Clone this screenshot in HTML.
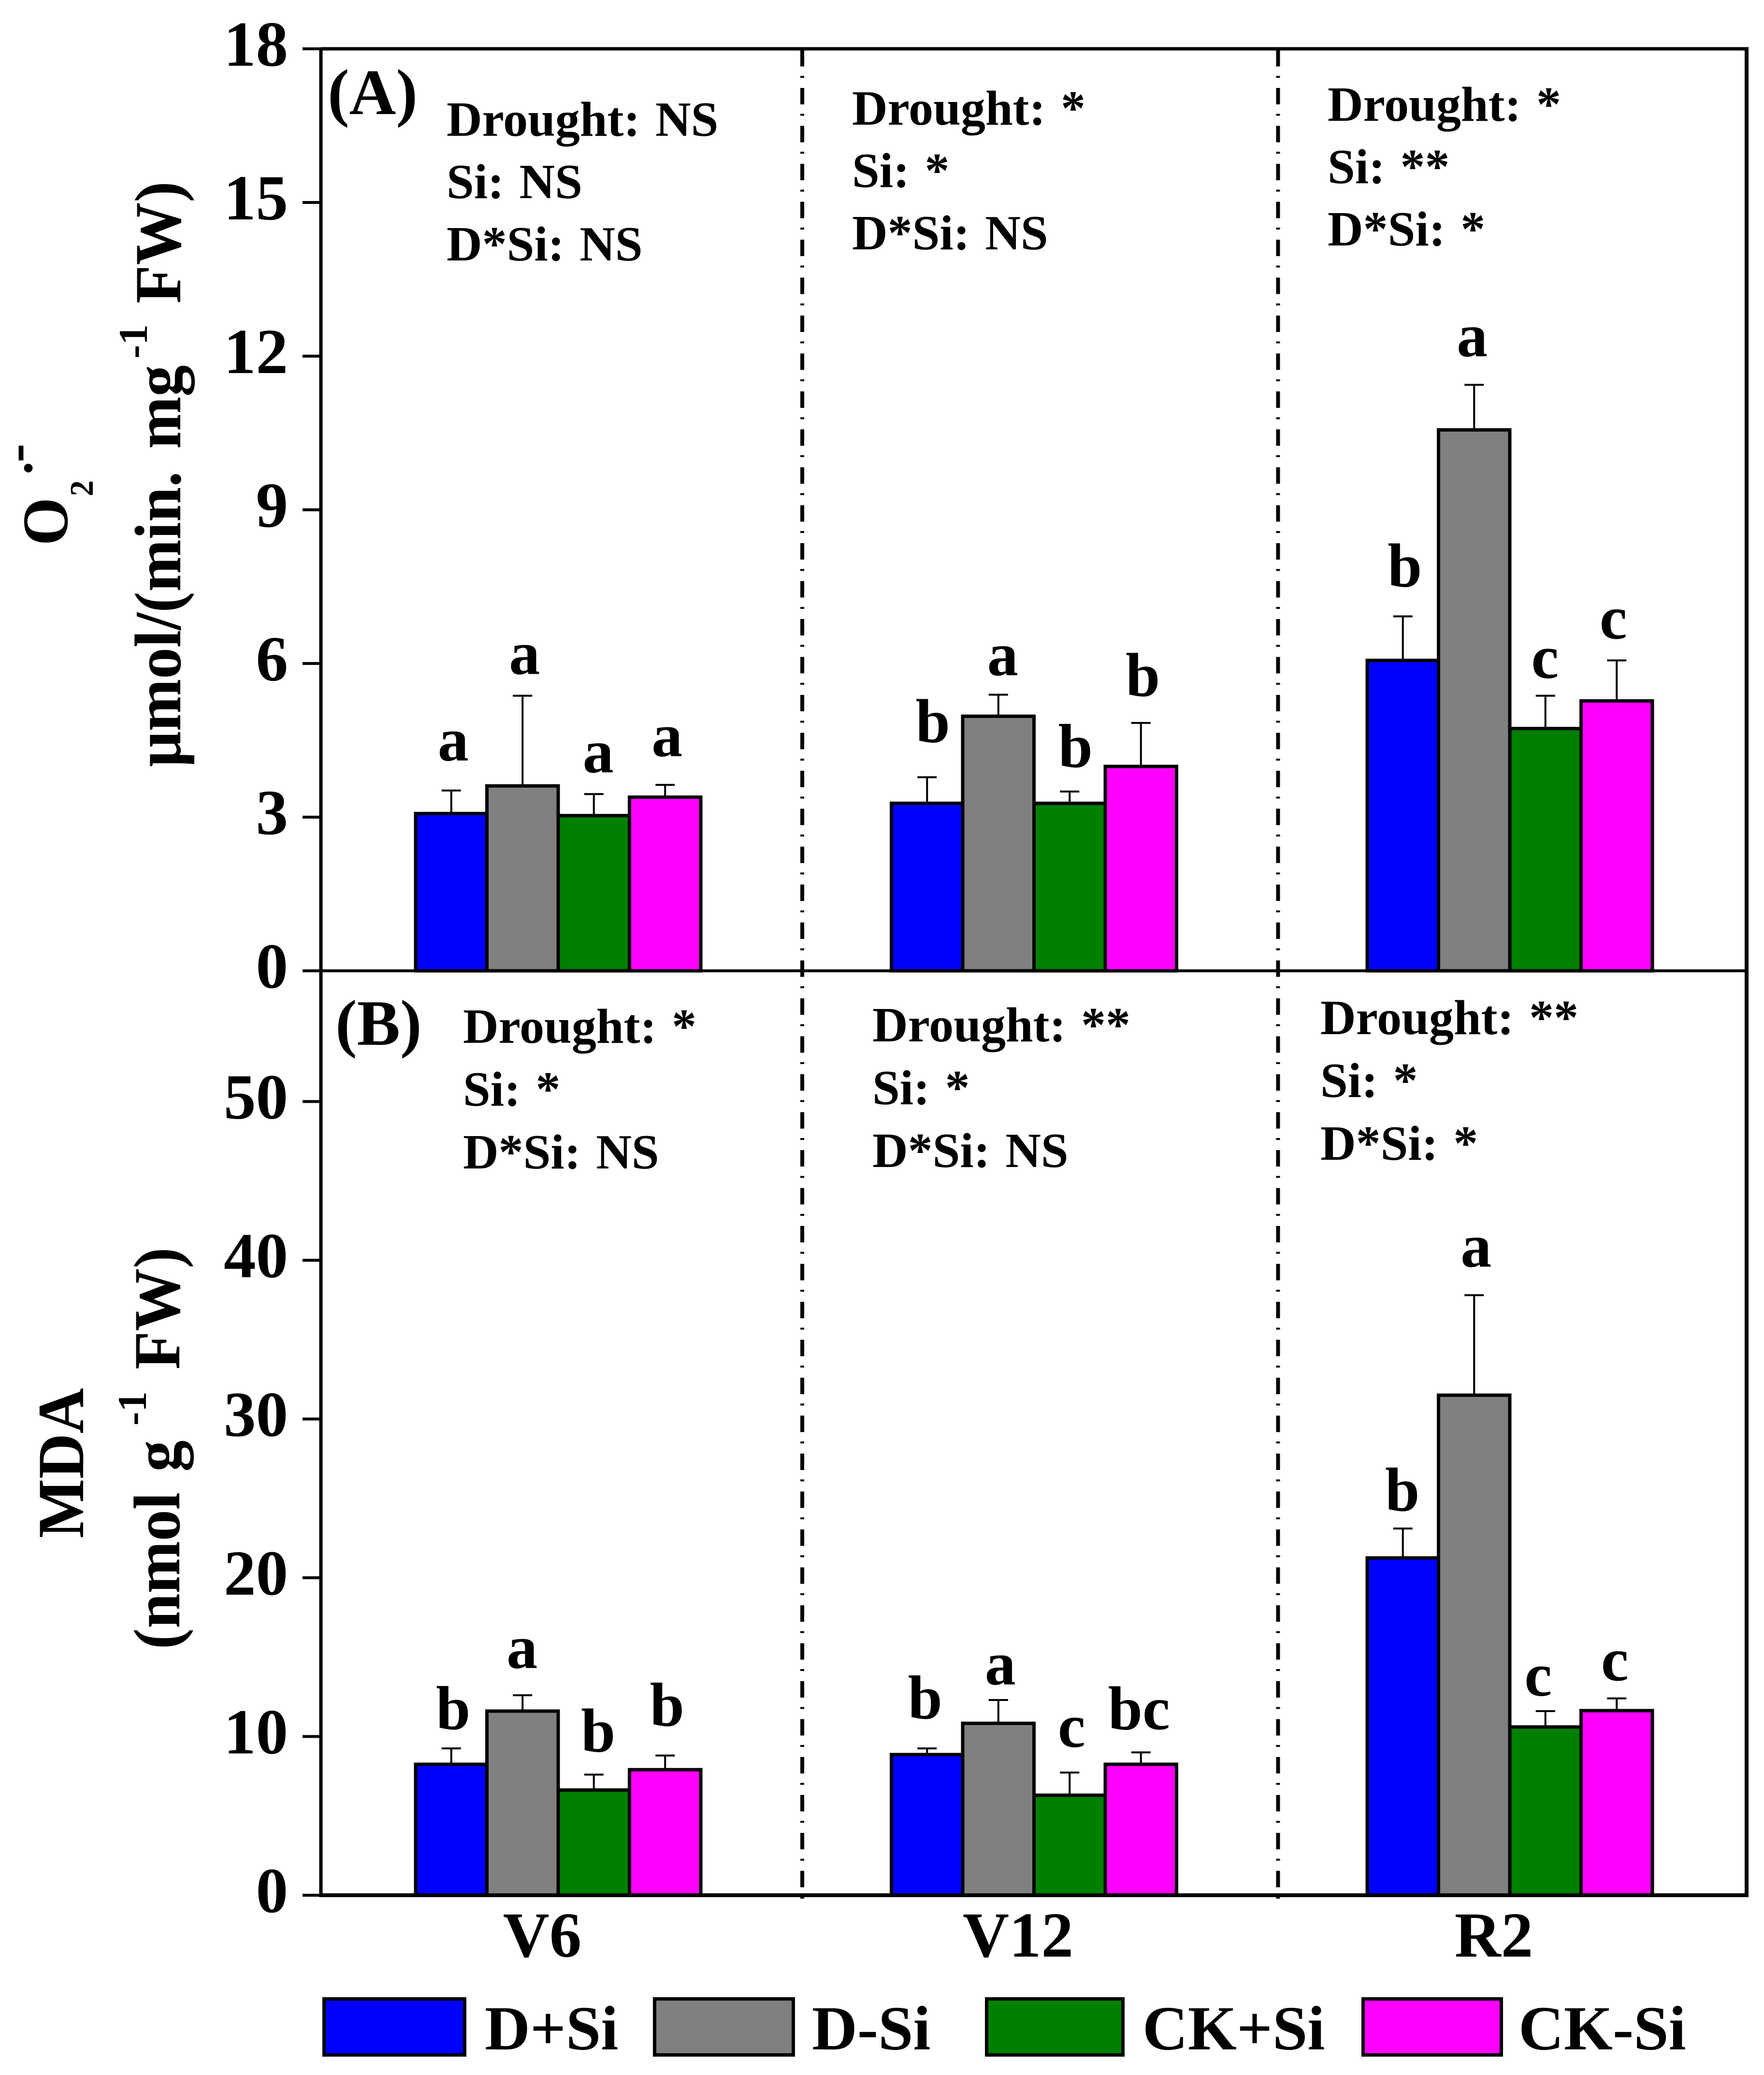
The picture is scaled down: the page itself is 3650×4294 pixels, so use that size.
<!DOCTYPE html>
<html lang="en">
<head>
<meta charset="utf-8">
<title>Superoxide and MDA bar charts</title>
<style>
html,body{margin:0;padding:0;background:#fff;width:3650px;height:4294px;overflow:hidden}
svg{display:block}
text{font-family:"Liberation Serif","Times New Roman",serif;font-weight:bold;fill:#000}
</style>
</head>
<body>
<svg id="chart" xmlns="http://www.w3.org/2000/svg" width="3650" height="4294" viewBox="0 0 3650 4294"></svg>
<script>
const stages = ['V6', 'V12', 'R2'];
const seriesNames = ['D+Si', 'D-Si', 'CK+Si', 'CK-Si'];
const ticksA = [0, 3, 6, 9, 12, 15, 18];
const ticksB = [0, 10, 20, 30, 40, 50];

const o2DPlusSi = [3.07, 3.27, 6.06];
const o2DMinusSi = [3.61, 4.97, 10.56];
const o2CkPlusSi = [3.03, 3.27, 4.73];
const o2CkMinusSi = [3.39, 3.99, 5.27];
const o2ErrDPlusSi = [3.52, 3.78, 6.92];
const o2ErrDMinusSi = [5.37, 5.39, 11.44];
const o2ErrCkPlusSi = [3.45, 3.50, 5.37];
const o2ErrCkMinusSi = [3.63, 4.84, 6.06];
const o2Letters = [['a', 'a', 'a', 'a'], ['b', 'a', 'b', 'b'], ['b', 'a', 'c', 'c']];

const mdaDPlusSi = [8.25, 8.86, 21.25];
const mdaDMinusSi = [11.6, 10.83, 31.5];
const mdaCkPlusSi = [6.63, 6.3, 10.6];
const mdaCkMinusSi = [7.91, 8.25, 11.63];
const mdaErrDPlusSi = [9.25, 9.25, 23.1];
const mdaErrDMinusSi = [12.6, 12.3, 37.8];
const mdaErrCkPlusSi = [7.6, 7.73, 11.6];
const mdaErrCkMinusSi = [8.8, 9.0, 12.4];
const mdaLetters = [['b', 'a', 'b', 'b'], ['b', 'a', 'c', 'bc'], ['b', 'a', 'c', 'c']];

const o2Stats = [['Drought: NS', 'Si: NS', 'D*Si: NS'], ['Drought: *', 'Si: *', 'D*Si: NS'], ['Drought: *', 'Si: **', 'D*Si: *']];
const mdaStats = [['Drought: *', 'Si: *', 'D*Si: NS'], ['Drought: **', 'Si: *', 'D*Si: NS'], ['Drought: **', 'Si: *', 'D*Si: *']];

const NS = 'http://www.w3.org/2000/svg';
const svg = document.getElementById('chart');
const FILLS = ['#0000ff', '#808080', '#008000', '#ff00ff'];
const AXIS_LEFT = 664, AXIS_RIGHT = 3614, TICK_LEFT = 626;
const BAR_W = 147.5;

const yA = v => 2009 - v * 106;
const yB = v => 3922 - v * 32.85;
const groupCenter = i => 1155 + 984.5 * i;
const barLeft = (i, j) => groupCenter(i) + (j - 2) * BAR_W;

/* hand placement of significance letters relative to their error bar: [dx, dy] */
const LETTER_NUDGE = {
  o2: [
    [[0, -14], [0, 3], [5, 3], [0, -11]],
    [[8, -25], [5, 8], [8, -3], [0, -8]],
    [[0, -14], [-8, -11], [-5, 11], [-11, 3]]
  ],
  mda: [
    [[0, 8], [-5, -8], [5, 0], [0, -14]],
    [[-8, -14], [0, 16], [0, -5], [-8, 0]],
    [[-5, 11], [0, -11], [-19, 16], [-8, 11]]
  ]
};

function shape(tag, props) {
  const el = document.createElementNS(NS, tag);
  for (const k in props) el.setAttribute(k, props[k]);
  svg.appendChild(el);
  return el;
}
function hLine(x1, x2, y, w) {
  return shape('line', { x1: x1, x2: x2, y1: y, y2: y, stroke: '#000', 'stroke-width': w });
}
function vLine(x, y1, y2, w) {
  return shape('line', { x1: x, x2: x, y1: y1, y2: y2, stroke: '#000', 'stroke-width': w });
}
function label(str, x, y, size, anchor) {
  const el = shape('text', { x: x, y: y, 'font-size': size, 'text-anchor': anchor || 'start' });
  el.textContent = str;
  return el;
}
function rotLabel(str, x, y, size, stretch, spacing) {
  const el = shape('text', { transform: 'translate(' + x + ' ' + y + ') rotate(-90) scale(1 ' + stretch + ')', 'font-size': size, 'word-spacing': spacing || 0 });
  el.textContent = str;
  return el;
}

/* stage dividers */
for (let i = 0; i < 2; i++) {
  const div = vLine(groupCenter(i) + 505, 103.5, 3933, 8);
  div.setAttribute('stroke-dasharray', '34 19.5 4 21');
  
  
}

/* bars, error bars, significance letters */
function drawPanel(prefix, y, means, errs, letters) {
  stages.forEach(function (stage, i) {
    seriesNames.forEach(function (series, j) {
      const x = barLeft(i, j), cx = x + BAR_W / 2;
      const top = y(means[j][i]), errTop = y(errs[j][i]);
      const nudge = LETTER_NUDGE[prefix][i][j];

      const stem = vLine(cx, errTop, top, 4);
      
      

      const cap = hLine(cx - 20, cx + 20, errTop, 4);
      
      

      const bar = shape('rect', { x: x, y: top, width: BAR_W, height: y(0) - top, fill: FILLS[j], stroke: '#000', 'stroke-width': 7 });
      
      

      const letter = label(letters[i][j], cx + 4 + nudge[0], errTop - 48 + nudge[1], 128, 'middle');
      
      
    });
  });
}
drawPanel('o2', yA, [o2DPlusSi, o2DMinusSi, o2CkPlusSi, o2CkMinusSi], [o2ErrDPlusSi, o2ErrDMinusSi, o2ErrCkPlusSi, o2ErrCkMinusSi], o2Letters);
drawPanel('mda', yB, [mdaDPlusSi, mdaDMinusSi, mdaCkPlusSi, mdaCkMinusSi], [mdaErrDPlusSi, mdaErrDMinusSi, mdaErrCkPlusSi, mdaErrCkMinusSi], mdaLetters);

/* axes */
const leftAxis = vLine(AXIS_LEFT, 98, 3926, 7);



const rightAxis = vLine(AXIS_RIGHT, 98, 3926, 8);



const bottomAxis = hLine(AXIS_LEFT, AXIS_RIGHT + 4, 3922, 8);



const midAxis = hLine(AXIS_LEFT, AXIS_RIGHT, 2009, 6);



const topAxis = hLine(AXIS_LEFT, AXIS_RIGHT + 4, 101, 7);



/* y ticks */
function drawTicks(prefix, ticks, y) {
  ticks.forEach(function (t) {
    const mark = hLine(TICK_LEFT, AXIS_LEFT, y(t), 6);
    
    

    const txt = label(String(t), 596, y(t) + 35, 133, 'end');
    
    
  });
}
drawTicks('o2', ticksA, yA);
drawTicks('mda', ticksB, yB);

/* x labels */
stages.forEach(function (stage, i) {
  const txt = label(stage, groupCenter(i) - 33, 4049, 133, 'middle');
  
  
});

/* statistics annotations */
function drawStats(prefix, stats, placements) {
  stats.forEach(function (lines, i) {
    lines.forEach(function (line, k) {
      const txt = label(line, placements[i][0], placements[i][1] + k * placements[i][2], 102);
      txt.setAttribute('word-spacing', '6');
      
      
    });
  });
}
drawStats('o2', o2Stats, [[924, 281, 129], [1763, 258, 129], [2747, 250, 129]]);
drawStats('mda', mdaStats, [[958, 2158, 130], [1805, 2155, 130], [2732, 2140, 130]]);

/* panel tags */
const tagA = label('(A)', 678, 236, 134);



const tagB = label('(B)', 694, 2162, 134);



/* rotated y-axis titles */
const titleO = rotLabel('O', 139, 1129, 128, 1.05);



const titleSub = rotLabel('2', 192, 1027, 66, 1.05);



const titleDot = rotLabel('·', 95, 987, 110, 1);



const titleMinus = rotLabel('-', 71, 957, 117, 1);



const titleA1 = rotLabel('μmol/(min. mg', 373, 1587, 130, 1.05, 14);



const titleA2 = rotLabel('-1', 304, 742, 85, 1);



const titleA3 = rotLabel('FW)', 373, 628, 130, 1.05);



const titleMda = rotLabel('MDA', 172, 3183, 130, 1.05);



const titleB1 = rotLabel('(nmol g', 371, 3413, 130, 1.05, 10);



const titleB2 = rotLabel('-1', 302, 2950, 85, 1);



const titleB3 = rotLabel('FW)', 371, 2834, 130, 1.05);



/* legend */
function legendEntry(j, boxX, boxW, textX) {
  const box = shape('rect', { x: boxX, y: 4136.5, width: boxW, height: 116, fill: FILLS[j], stroke: '#000', 'stroke-width': 7 });
  
  

  const txt = label(seriesNames[j], textX, 4241, 130);
  
  
}
legendEntry(0, 670.5, 291, 1003);
legendEntry(1, 1354.5, 287, 1680);
legendEntry(2, 2041.5, 282, 2364);
legendEntry(3, 2820.5, 286, 3142);
</script>
</body>
</html>
